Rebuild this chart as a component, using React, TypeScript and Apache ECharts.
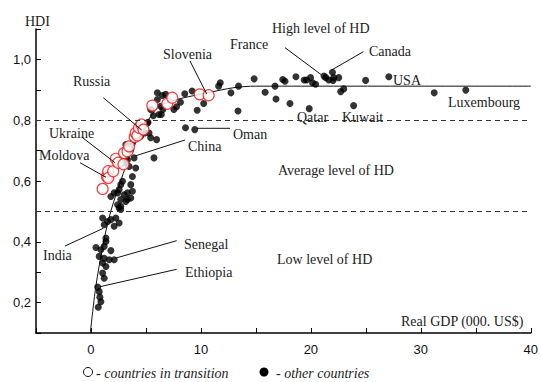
import React, { useEffect, useRef } from "react";
import * as echarts from "echarts";

// Real GDP (000 US$), HDI
const transitionCountries: [number, number][] = [
  [1.06, 0.574], [1.45, 0.615], [1.57, 0.632], [1.57, 0.61], [2.02, 0.632],
  [2.26, 0.673], [2.47, 0.66], [2.96, 0.655], [3.01, 0.692], [3.32, 0.698],
  [3.47, 0.714], [3.98, 0.745], [4.07, 0.758], [4.23, 0.75], [4.37, 0.775],
  [4.59, 0.786], [4.77, 0.769], [5.58, 0.848], [6.94, 0.854], [7.39, 0.874],
  [9.89, 0.885], [10.7, 0.882],
];

const otherCountries: [number, number][] = [
  // high income
  [16.74, 0.912], [16.83, 0.87], [17.44, 0.934], [17.65, 0.928], [18.1, 0.855],
  [18.64, 0.943], [19.39, 0.932], [19.61, 0.932], [19.97, 0.94], [20.15, 0.923],
  [20.43, 0.918], [19.85, 0.838], [21.2, 0.945], [21.36, 0.94], [21.63, 0.932],
  [21.96, 0.958], [22.02, 0.931], [22.08, 0.94], [22.53, 0.94], [22.71, 0.894],
  [22.99, 0.903], [23.89, 0.848], [24.98, 0.931], [27.09, 0.943], [31.22, 0.89],
  [34.09, 0.899],
  // upper middle
  [7.78, 0.844], [8.14, 0.859], [8.53, 0.887], [9.2, 0.896], [9.66, 0.833],
  [10.25, 0.855], [11.61, 0.912], [11.76, 0.923], [12.73, 0.89], [13.42, 0.912],
  [13.37, 0.83], [14.84, 0.936], [15.84, 0.892], [8.6, 0.775], [9.44, 0.769],
  [7.54, 0.835], [6.79, 0.885], [6.49, 0.881], [6.04, 0.89], [6.04, 0.868],
  [6.33, 0.846], [6.54, 0.835],
  // middle
  [6.18, 0.819], [5.43, 0.835], [5.13, 0.791], [5.28, 0.758], [5.43, 0.742],
  [5.97, 0.736], [5.67, 0.815], [6.4, 0.819], [5.19, 0.793], [4.89, 0.758],
  [4.52, 0.747], [3.77, 0.725], [3.62, 0.703], [3.17, 0.72], [3.92, 0.676],
  [5.73, 0.676], [3.32, 0.67], [3.01, 0.66], [4.07, 0.643], [3.47, 0.648],
  [3.77, 0.615], [2.87, 0.599], [2.71, 0.588], [2.56, 0.572], [2.11, 0.561],
  [1.81, 0.549], [2.71, 0.539], [3.32, 0.561], [3.62, 0.588], [2.42, 0.561],
  [3.01, 0.555], [3.77, 0.566], [3.62, 0.544], [3.32, 0.539], [3.17, 0.533],
  [2.71, 0.517], [2.42, 0.522], [2.56, 0.511], [2.71, 0.506],
  // low
  [1.06, 0.478], [1.51, 0.467], [1.81, 0.473], [2.26, 0.478], [2.56, 0.462],
  [1.2, 0.456], [2.11, 0.451], [1.36, 0.412], [1.36, 0.401], [1.2, 0.385],
  [0.45, 0.381], [0.9, 0.374], [1.81, 0.371], [0.75, 0.352], [1.2, 0.346],
  [1.66, 0.341], [2.11, 0.341], [1.06, 0.33], [1.36, 0.319], [1.06, 0.297],
  [1.2, 0.28], [0.61, 0.251], [0.75, 0.236], [0.81, 0.218], [0.9, 0.203],
  [0.66, 0.185],
];

const trendLine: [number, number][] = [
  [-0.06, 0.1], [0.43, 0.25], [1.15, 0.4], [1.8, 0.5], [2.7, 0.6], [3.7, 0.7],
  [4.5, 0.76], [5.2, 0.8], [6.2, 0.846], [7.8, 0.868], [10.6, 0.89],
  [13, 0.907], [15, 0.912], [40, 0.912],
];

const levelThresholds = [0.8, 0.5];

const serif = "'Liberation Serif', 'Times New Roman', serif";
const sans = "'Liberation Sans', Arial, sans-serif";

const labels: { text: string; x: number; y: number }[] = [
  { text: "HDI", x: 25, y: 21 },
  { text: "High level of HD", x: 272, y: 28 },
  { text: "France", x: 230, y: 44 },
  { text: "Canada", x: 369, y: 51 },
  { text: "Slovenia", x: 163, y: 54 },
  { text: "Russia", x: 73, y: 81 },
  { text: "USA", x: 393, y: 80 },
  { text: "Luxembourg", x: 448, y: 102 },
  { text: "Qatar", x: 297, y: 117 },
  { text: "Kuwait", x: 342, y: 117 },
  { text: "Oman", x: 233, y: 134 },
  { text: "Ukraine", x: 49, y: 133 },
  { text: "China", x: 188, y: 146 },
  { text: "Moldova", x: 39, y: 155 },
  { text: "Average level of HD", x: 278, y: 170 },
  { text: "India", x: 43, y: 255 },
  { text: "Senegal", x: 184, y: 244 },
  { text: "Ethiopia", x: 185, y: 272 },
  { text: "Low level of HD", x: 277, y: 259 },
  { text: "Real GDP (000. US$)", x: 401, y: 321 },
];

const leaders: [number, number, number, number][] = [
  [285, 47.7, 321.7, 75],
  [363.3, 51.7, 331.7, 70],
  [190, 61, 206.7, 94],
  [103.3, 97.7, 141.7, 130],
  [81.7, 137, 115, 162.7],
  [80, 162.7, 106, 177.3],
  [185, 140, 135, 156],
  [197, 128.3, 230, 128.3],
  [65, 246, 103.3, 228.3],
  [176.7, 240.7, 115, 258.3],
  [176.7, 269.3, 100, 286.7],
];

export default function App() {
  const ref = useRef<HTMLDivElement>(null);
  useEffect(() => {
    if (!ref.current) return;
    const chart = echarts.init(ref.current, null, { renderer: "svg" });
    const graphic: any[] = [];
    labels.forEach((l) =>
      graphic.push({
        type: "text",
        x: l.x,
        y: l.y,
        z: 10,
        style: {
          text: l.text,
          fill: "#222",
          font: `14px ${serif}`,
          textAlign: "left",
          textVerticalAlign: "middle",
        },
      })
    );
    leaders.forEach((s) =>
      graphic.push({
        type: "line",
        z: 10,
        shape: { x1: s[0], y1: s[1], x2: s[2], y2: s[3] },
        style: { stroke: "#111", lineWidth: 1 },
      })
    );
    // legend
    graphic.push(
      {
        type: "circle",
        shape: { cx: 88, cy: 372, r: 4.5 },
        style: { fill: "#fff", stroke: "#111", lineWidth: 1 },
      },
      {
        type: "text",
        x: 96,
        y: 373,
        style: {
          text: "- countries in transition",
          fill: "#222",
          font: `italic 14px ${serif}`,
          textAlign: "left",
          textVerticalAlign: "middle",
        },
      },
      {
        type: "circle",
        shape: { cx: 264, cy: 372, r: 4.5 },
        style: { fill: "#000" },
      },
      {
        type: "text",
        x: 276,
        y: 373,
        style: {
          text: "- other countries",
          fill: "#222",
          font: `italic 14px ${serif}`,
          textAlign: "left",
          textVerticalAlign: "middle",
        },
      }
    );

    chart.setOption({
      animation: false,
      backgroundColor: "#fff",
      grid: { left: 36, right: 9, top: 29, bottom: 49 },
      xAxis: {
        type: "value",
        min: -5,
        max: 40,
        interval: 5,
        axisLine: { onZero: false, lineStyle: { color: "#000", width: 1.5 } },
        axisTick: { inside: true, length: 5, lineStyle: { color: "#000" } },
        splitLine: { show: false },
        axisLabel: {
          margin: 10,
          color: "#111",
          fontSize: 13,
          fontFamily: sans,
          formatter: (v: number) => (Math.round(v) % 10 === 0 ? String(v) : ""),
        },
      },
      yAxis: {
        type: "value",
        min: 0.1,
        max: 1.1,
        interval: 0.1,
        axisLine: { show: true, onZero: false, lineStyle: { color: "#000", width: 1.5 } },
        axisTick: { show: true, inside: true, length: 5, lineStyle: { color: "#000" } },
        splitLine: { show: false },
        axisLabel: {
          margin: 5,
          color: "#111",
          fontSize: 13,
          fontFamily: sans,
          formatter: (v: number) => {
            const k = Math.round(v * 10);
            return k % 2 === 0 && k <= 10 ? (k / 10).toFixed(1).replace(".", ",") : "";
          },
        },
      },
      series: [
        {
          type: "line",
          data: trendLine,
          smooth: 0.3,
          showSymbol: false,
          symbol: "none",
          lineStyle: { color: "#111", width: 1 },
          z: 1,
          markLine: {
            silent: true,
            symbol: "none",
            label: { show: false },
            lineStyle: { color: "#333", type: [5, 4], width: 1 },
            data: levelThresholds.map((v) => ({ yAxis: v })),
          },
        },
        {
          type: "scatter",
          data: otherCountries,
          symbolSize: 7,
          itemStyle: { color: "#000" },
          z: 2,
        },
        {
          type: "scatter",
          data: transitionCountries,
          symbolSize: 11,
          itemStyle: { color: "#fff", borderColor: "#ee1111", borderWidth: 1.2 },
          z: 3,
        },
      ],
      graphic,
    });
    return () => chart.dispose();
  }, []);
  return (
    <div
      ref={ref}
      style={{ position: "fixed", left: 0, top: 0, width: 541, height: 382 }}
    />
  );
}
